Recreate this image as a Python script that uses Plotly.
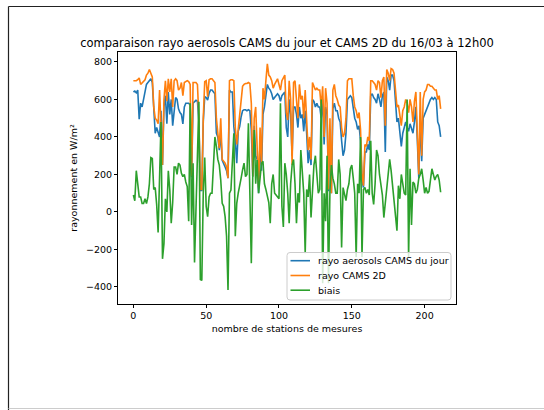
import plotly.graph_objects as go

rayo_cams_jour = [
    640, 645, 635, 650, 495, 580, 560, 600, 630, 680,
    690, 700, 710, 690, 520, 420, 450, 430, 400, 540,
    250, 560, 620, 470, 640, 520, 600, 460, 560, 610,
    600, 550, 530, 520, 470, 560, 580, 580, 580, 570,
    185, 580, 590, 595, 590, 480, 115, 115, 480, 615,
    610, 597, 633, 650, 650, 640, 630, 420, 400, 330,
    420, 275, 260, 240, 220, 180, 650, 640, 640, 455,
    380, 260, 430, 455, 508, 540, 545, 545, 540, 545,
    540, 437, 188, 460, 300, 280, 100, 380, 220, 520,
    560, 640, 680, 660, 650, 630, 600, 610, 620, 630,
    620, 590, 620, 630, 640, 450, 400, 600, 520, 300,
    560, 560, 520, 450, 560, 500, 520, 430, 540, 420,
    260, 330, 250, 600, 590, 560, 580, 560, 560, 500,
    600, 360, 560, 520, 110, 420, 100, 550, 580, 540,
    540, 500, 480, 380, 300, 330, 420, 600, 610, 620,
    610, 540, 500, 480, 440, 460, 380, 170, 130, 320,
    320, 360, 330, 620, 630, 610, 600, 580, 630, 600,
    560, 620, 640, 320, 720, 700, 650, 730, 730, 700,
    580, 480, 500, 420, 350, 420, 460, 480, 450, 430,
    470, 440, 420, 480, 560, 380, 180, 500, 270, 500,
    520, 550, 560, 580, 600, 610, 600, 610, 600, 480,
    460, 400,
]

rayo_cams_2d = [
    700, 700, 700, 705, 715, 680, 690, 700, 705, 730,
    740, 760, 740, 720, 560, 500, 490, 470, 650, 460,
    250, 600, 700, 590, 710, 640, 710, 560, 700, 710,
    700, 650, 660, 690, 620, 690, 695, 700, 695, 680,
    190, 690, 690, 690, 680, 500, 120, 120, 500, 695,
    700, 615, 705, 710, 710, 700, 690, 500, 420, 340,
    500, 280, 270, 260, 240, 180, 700, 705, 705, 700,
    450, 360, 440, 530, 600, 670, 680, 685, 685, 690,
    685, 580, 190, 500, 560, 330, 130, 450, 250, 660,
    600, 700, 790, 730, 720, 700, 660, 680, 700, 710,
    680, 650, 700, 720, 730, 530, 490, 700, 600, 250,
    690, 700, 600, 500, 680, 600, 620, 500, 650, 500,
    330, 400, 280, 690, 670, 650, 660, 650, 650, 560,
    670, 400, 660, 580, 120, 500, 100, 650, 680, 620,
    600, 570, 560, 450, 400, 420, 500, 700, 710, 710,
    710, 620, 560, 540, 500, 530, 440, 200, 140, 360,
    350, 400, 380, 700, 700, 690, 680, 650, 700, 690,
    610, 700, 720, 460, 760, 740, 700, 765, 760, 740,
    640, 560, 570, 500, 460, 540, 560, 600, 580, 530,
    600, 560, 480, 590, 640, 420, 200, 640, 300, 600,
    640, 650, 680, 680, 670, 670, 660, 650, 650, 600,
    620, 550,
]

biais = [
    90, 60, 220, 150, 80, 80, 45, 45, 70, 45,
    80, 150, 290, 285, 120, 130, 40, -110, 130, 480,
    -250, -170, 70, 0, 220, 120, -60, 50, 240, 240,
    200, 260, 250, 206, 188, 200, 160, 135, -50, 580,
    -70, 260, -270, 100, 300, 588, -360, -365, 100, 290,
    30, -25, 80, 100, 100, 250, 400, 350, 280, 250,
    170, 46, 30, -25, -130, -416, 100, 117, 277, 420,
    -130, 46, 100, 135, 180, 224, 260, 188, 200, 473,
    153, -274, 200, 437, 150, 277, 100, 190, 260, 270,
    150, 120, 80, 50, -60, 150, 200, 100, 90, 80,
    70, 580, 30, -80, 260, 200, 100, -60, 150, 250,
    280, 150, -60, 100, 50, 330, 200, 100, -220, 120,
    80, 200, -30, 150, 250, 300, 180, 100, 120, 600,
    -380, 100, -50, 300, -380, 120, 250, 180, 150, 100,
    100, 280, 200, -190, 130, 100, 60, 120, 150, 230,
    250, 180, 100, -240, 150, 100, 400, -240, 120, 130,
    100, 120, 90, 380, 100, 40, 150, 330, 300, 200,
    130, 90, -30, 50, 110, 210, 280, 220, 130, 50,
    -30, -100, 140, 70, 200, 150, 100, 90, 600, -240,
    230, -70, 160, 150, 100, 120, 180, 200, 230, 170,
    100, 130, 100, 110, 180, 230, 200, 170, 190, 200,
    170, 105,
]

series_names = ["rayo aerosols CAMS du jour", "rayo CAMS 2D", "biais"]
series_colors = ["#1f77b4", "#ff7f0e", "#2ca02c"]

x_vals = list(range(len(rayo_cams_jour)))

x_ticks = [0, 50, 100, 150, 200]
y_ticks = [-400, -200, 0, 200, 400, 600, 800]

FONT = "DejaVu Sans"

# plot area in pixels
PL, PR, PT, PB = 118, 456, 52, 304


def pxx(px):
    return (px - PL) / (PR - PL)


def pxy(py):
    return (PB - py) / (PB - PT)


fig = go.Figure()
for vals, name, color in zip([rayo_cams_jour, rayo_cams_2d, biais], series_names, series_colors):
    fig.add_trace(go.Scatter(x=x_vals, y=vals, mode="lines", name=name,
                             line=dict(color=color, width=1.6), showlegend=False))

axis_common = dict(
    showgrid=False, zeroline=False, showline=True, linecolor="#000000",
    linewidth=1, mirror=True, ticks="outside", ticklen=3, tickwidth=1,
    tickcolor="#000000", tickfont=dict(family=FONT, size=9.5, color="#000000"),
)

fig.update_layout(
    width=544, height=410,
    margin=dict(l=PL, r=544 - PR, t=PT, b=410 - PB),
    paper_bgcolor="white", plot_bgcolor="white",
    font=dict(family=FONT, size=9.5, color="#000000"),
    title=dict(text="comparaison rayo aerosols CAMS du jour et CAMS 2D du 16/03 à 12h00",
               x=(PL + PR) / 2 / 544, xanchor="center", y=1 - 43 / 410, yanchor="middle",
               font=dict(family=FONT, size=11.5, color="#000000")),
    xaxis=dict(range=[-10.55, 221.55], tickvals=x_ticks,
               title=dict(text="nombre de stations de mesures", standoff=4,
                          font=dict(family=FONT, size=9.5)),
               **axis_common),
    yaxis=dict(range=[-491, 853], tickvals=y_ticks,
               title=dict(text="rayonnement en W/m²", standoff=6,
                          font=dict(family=FONT, size=9.5)),
               **axis_common),
    showlegend=False,
)

# legend drawn like matplotlib's (rounded box, short line samples)
bx0, bx1, by0, by1, r = 287, 451, 252.5, 300, 3
path = (
    f"M {pxx(bx0 + r)},{pxy(by0)} L {pxx(bx1 - r)},{pxy(by0)} "
    f"Q {pxx(bx1)},{pxy(by0)} {pxx(bx1)},{pxy(by0 + r)} "
    f"L {pxx(bx1)},{pxy(by1 - r)} Q {pxx(bx1)},{pxy(by1)} {pxx(bx1 - r)},{pxy(by1)} "
    f"L {pxx(bx0 + r)},{pxy(by1)} Q {pxx(bx0)},{pxy(by1)} {pxx(bx0)},{pxy(by1 - r)} "
    f"L {pxx(bx0)},{pxy(by0 + r)} Q {pxx(bx0)},{pxy(by0)} {pxx(bx0 + r)},{pxy(by0)} Z"
)
fig.add_shape(type="path", xref="paper", yref="paper", path=path,
              fillcolor="rgba(255,255,255,0.8)", line=dict(color="#cccccc", width=1),
              layer="above")
rows = [260.7, 275.5, 290.2]
for name, color, ry in zip(series_names, series_colors, rows):
    fig.add_shape(type="line", xref="paper", yref="paper",
                  x0=pxx(290.5), x1=pxx(310), y0=pxy(ry), y1=pxy(ry),
                  line=dict(color=color, width=1.6), layer="above")
    fig.add_annotation(xref="paper", yref="paper", x=pxx(315.5), y=pxy(ry),
                       xanchor="left", yanchor="middle", showarrow=False,
                       text=name, font=dict(family=FONT, size=9.5, color="#000000"))

# figure frame (screenshot border)
fig.add_shape(type="line", xref="paper", yref="paper",
              x0=pxx(8.5), x1=pxx(8.5), y0=pxy(6.5), y1=pxy(410),
              line=dict(color="#222222", width=1.2))
fig.add_shape(type="line", xref="paper", yref="paper",
              x0=pxx(8.5), x1=pxx(544), y0=pxy(6.5), y1=pxy(6.5),
              line=dict(color="#222222", width=1.2))
fig.add_shape(type="line", xref="paper", yref="paper",
              x0=pxx(8.5), x1=pxx(544), y0=pxy(408.5), y1=pxy(408.5),
              line=dict(color="#cccccc", width=1))

fig.write_html("out.html")
